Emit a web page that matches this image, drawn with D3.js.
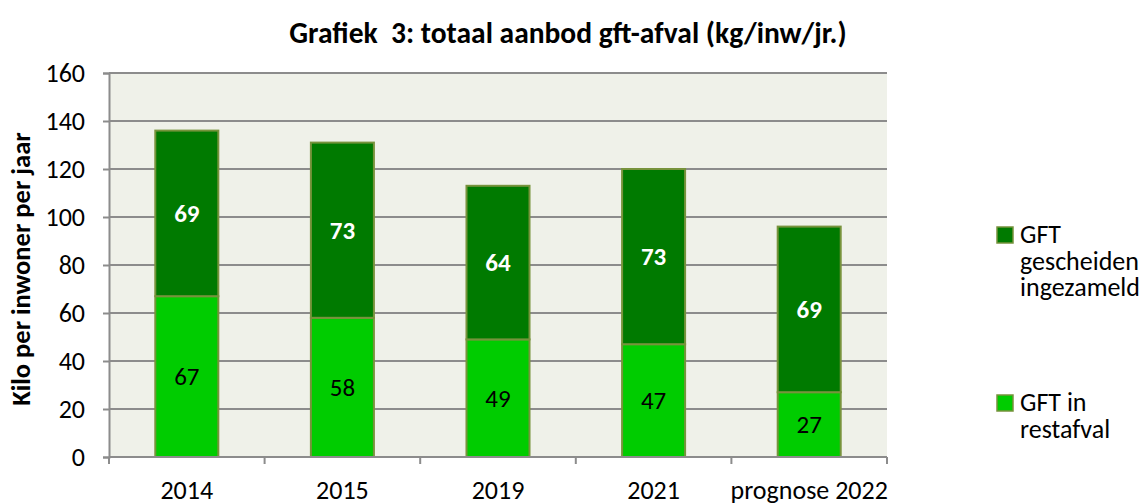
<!DOCTYPE html>
<html>
<head>
<meta charset="utf-8">
<script src="https://cdn.jsdelivr.net/npm/d3@7"></script>
<style>
  body { margin: 0; background: #fff; }
  text { font-family: Carlito, "Open Sans", "Noto Sans", sans-serif; }
</style>
</head>
<body>
<svg width="1145" height="503"></svg>
<script>
// data
var years = ["2014", "2015", "2019", "2021", "prognose 2022"];
var gftRest = [67, 58, 49, 47, 27];
var gftApart = [69, 73, 64, 73, 69];
var yTicks = [0, 20, 40, 60, 80, 100, 120, 140, 160];
var seriesNames = ["GFT in restafval", "GFT gescheiden ingezameld"];

var svg = d3.select("svg");
var plotLeft = 109, plotRight = 887, plotTop = 73, plotBottom = 457;
var fontFam = 'Carlito, "Open Sans", sans-serif';

var x = d3.scaleBand().domain(years).range([plotLeft, plotRight]).paddingInner(0.595).paddingOuter(0.2975);
var y = d3.scaleLinear().domain([0, 160]).range([plotBottom, plotTop]);

// plot background
svg.append("rect")
  .attr("x", plotLeft).attr("y", plotTop)
  .attr("width", plotRight - plotLeft).attr("height", plotBottom - plotTop)
  .attr("fill", "#eff1e9");

// gridlines
svg.append("g").selectAll("line")
  .data(yTicks.slice(1))
  .enter().append("line")
  .attr("x1", plotLeft).attr("x2", plotRight)
  .attr("y1", function(d) { return y(d); })
  .attr("y2", function(d) { return y(d); })
  .attr("stroke", "#8c8c8c").attr("stroke-width", 2);

// stacked bars
var stacked = years.map(function(d, i) {
  return { year: d, rest: gftRest[i], apart: gftApart[i] };
});

var gBars = svg.append("g");
stacked.forEach(function(d) {
  gBars.append("rect")
    .attr("x", x(d.year)).attr("width", x.bandwidth())
    .attr("y", y(d.rest)).attr("height", y(0) - y(d.rest))
    .attr("fill", "#00cc00").attr("stroke", "#77933c").attr("stroke-width", 2);
  gBars.append("rect")
    .attr("x", x(d.year)).attr("width", x.bandwidth())
    .attr("y", y(d.rest + d.apart)).attr("height", y(d.rest) - y(d.rest + d.apart))
    .attr("fill", "#007a00").attr("stroke", "#77933c").attr("stroke-width", 2);

  gBars.append("text")
    .attr("x", x(d.year) + x.bandwidth() / 2)
    .attr("y", y(d.rest / 2))
    .attr("dy", "0.35em")
    .attr("text-anchor", "middle")
    .attr("font-size", 25)
    .attr("fill", "#000")
    .text(d.rest);
  gBars.append("text")
    .attr("x", x(d.year) + x.bandwidth() / 2)
    .attr("y", y(d.rest + d.apart / 2))
    .attr("dy", "0.35em")
    .attr("text-anchor", "middle")
    .attr("font-size", 25)
    .attr("font-weight", "bold")
    .attr("fill", "#fff")
    .text(d.apart);
});

// y axis
var yAxis = svg.append("g")
  .attr("transform", "translate(" + plotLeft + ",0)")
  .call(d3.axisLeft(y).tickValues(yTicks).tickSize(6).tickPadding(18));
yAxis.select(".domain").attr("stroke", "#8c8c8c").attr("stroke-width", 2);
yAxis.selectAll(".tick line").attr("stroke", "#8c8c8c").attr("stroke-width", 2);
yAxis.selectAll(".tick text").attr("font-size", 26).attr("fill", "#000")
  .style("font-family", fontFam);

// x axis: line with ticks between categories
svg.append("line")
  .attr("x1", plotLeft).attr("x2", plotRight)
  .attr("y1", plotBottom).attr("y2", plotBottom)
  .attr("stroke", "#8c8c8c").attr("stroke-width", 2);
var step = (plotRight - plotLeft) / years.length;
svg.append("g").selectAll("line")
  .data(d3.range(years.length + 1))
  .enter().append("line")
  .attr("x1", function(i) { return plotLeft + i * step; })
  .attr("x2", function(i) { return plotLeft + i * step; })
  .attr("y1", plotBottom).attr("y2", plotBottom + 7)
  .attr("stroke", "#8c8c8c").attr("stroke-width", 2);
svg.append("g").selectAll("text")
  .data(years)
  .enter().append("text")
  .attr("x", function(d) { return x(d) + x.bandwidth() / 2; })
  .attr("y", 499)
  .attr("text-anchor", "middle")
  .attr("font-size", 26)
  .text(function(d) { return d; });

// title
svg.append("text")
  .attr("x", 568).attr("y", 43)
  .attr("text-anchor", "middle")
  .attr("font-size", 29.5).attr("font-weight", "bold")
  .style("white-space", "pre")
  .text("Grafiek  3: totaal aanbod gft-afval (kg/inw/jr.)");

// y label
svg.append("text")
  .attr("transform", "translate(30," + ((plotTop + plotBottom) / 2 + 4) + ") rotate(-90)")
  .attr("text-anchor", "middle")
  .attr("font-size", 26.5).attr("font-weight", "bold")
  .text("Kilo per inwoner per jaar");

// legend
var legend = [
  { name: seriesNames[1], lines: ["GFT", "gescheiden", "ingezameld"], color: "#007a00", y: 234 },
  { name: seriesNames[0], lines: ["GFT in", "restafval"], color: "#00cc00", y: 402 }
];
legend.forEach(function(l) {
  svg.append("rect")
    .attr("x", 997).attr("y", l.y - 7)
    .attr("width", 16).attr("height", 16)
    .attr("fill", l.color).attr("stroke", "#77933c").attr("stroke-width", 1.5);
  var t = svg.append("text")
    .attr("y", l.y)
    .attr("font-size", 26);
  l.lines.forEach(function(line, i) {
    t.append("tspan").attr("x", 1020).attr("dy", i === 0 ? "0.35em" : 26.5).text(line);
  });
});
</script>
</body>
</html>
